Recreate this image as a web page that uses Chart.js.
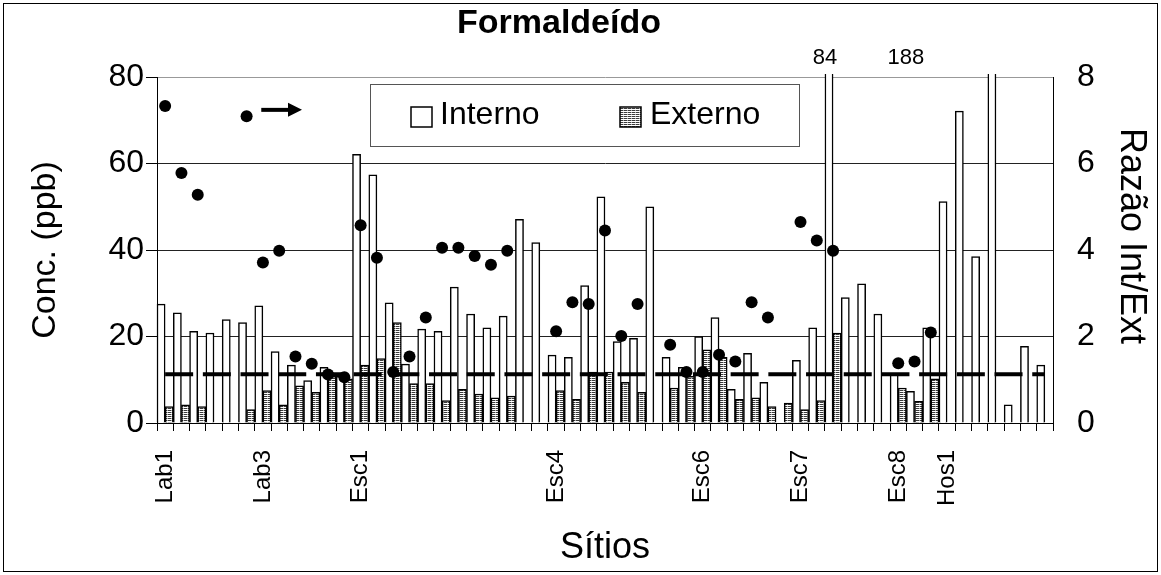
<!DOCTYPE html>
<html>
<head>
<meta charset="utf-8">
<script src="https://cdn.jsdelivr.net/npm/chart.js@4.4.1/dist/chart.umd.min.js"></script>
<style>
  html, body { margin: 0; padding: 0; background: #fff; }
  #wrap { width: 1161px; height: 575px; }
</style>
</head>
<body>
<div id="wrap"><canvas id="myChart" width="1161" height="575"></canvas></div>
<script>
// sites (only some are labelled on the axis)
const sites = [
  'Lab1', '', '', '', '', '', 'Lab3', '', '', '', '',
  '', 'Esc1', '', '', '', '', '', '', '', '', '',
  '', '', 'Esc4', '', '', '', '', '', '', '', '',
  'Esc6', '', '', '', '', '', 'Esc7', '', '', '', '',
  '', 'Esc8', '', '', 'Hos1', '', '', '', '', '', ''
];

// concentration indoor (ppb)
const interno = [
  27.5, 25.5, 21.2, 20.8, 23.9, 23.2, 27.1, 16.5, 13.4, 9.8, 12.9,
  10.8, 62.1, 57.4, 27.8, 13.6, 21.7, 21.2, 31.4, 25.2, 22.0, 24.7,
  47.1, 41.7, 15.7, 15.2, 31.8, 52.3, 18.8, 19.6, 50.0, 15.2, 12.9,
  20.0, 24.4, 7.8, 16.1, 9.4, null, 14.5, 22.0, 84, 29.0, 32.2,
  25.2, 11.2, 7.3, 22.0, 51.2, 72.1, 38.5, 188, 4.2, 17.7, 13.4
];

// concentration outdoor (ppb)
const externo = [
  3.8, 4.2, 3.8, null, null, 3.1, 7.5, 4.2, 8.6, 7.1, 10.8,
  10.2, 13.4, 14.9, 23.2, 9.1, 9.1, 5.2, 7.8, 6.7, 5.8, 6.2,
  null, null, 7.5, 5.5, 11.8, 11.8, 9.4, 7.1, null, 8.1, 10.8,
  16.9, 15.2, 5.5, 5.8, 3.8, 4.6, 3.1, 5.2, 20.8, null, null,
  null, 8.1, 5.0, 10.2, null, null, null, null, null, null, null
];

// ratio int/ext (right axis)
const razao = [
  7.33, 5.78, 5.28, null, null, 7.09, 3.71, 3.98, 1.54, 1.37, 1.12,
  1.06, 4.57, 3.82, 1.18, 1.54, 2.44, 4.05, 4.05, 3.86, 3.66, 3.98,
  null, null, 2.12, 2.79, 2.75, 4.45, 2.01, 2.75, null, 1.81, 1.18,
  1.18, 1.58, 1.42, 2.79, 2.44, null, 4.65, 4.22, 3.98, null, null,
  null, 1.38, 1.42, 2.09, null, null, null, null, null, null, null
];

const razaoRef = 1.13; // dashed reference level

const FONT = '"Liberation Sans", Arial, sans-serif';
Chart.defaults.font.family = FONT;
Chart.defaults.color = '#000';

function stripes() {
  const c = document.createElement('canvas');
  c.width = 4; c.height = 2;
  const g = c.getContext('2d');
  g.fillStyle = '#fff';
  g.fillRect(0, 0, 4, 2);
  g.fillStyle = '#3a3a3a';
  g.fillRect(0, 0, 3, 1);
  g.fillStyle = '#aaa';
  g.fillRect(3, 0, 1, 1);
  return g.createPattern(c, 'repeat');
}
const hatch = stripes();

// white page + frame, title, legend box, arrow and off-scale labels
const decorations = {
  id: 'decorations',
  beforeDraw(chart) {
    const ctx = chart.ctx;
    ctx.save();
    ctx.fillStyle = '#fff';
    ctx.fillRect(0, 0, chart.width, chart.height);
    ctx.restore();
  },
  afterDatasetsDraw(chart) {
    const ctx = chart.ctx;
    const x = chart.scales.x, y = chart.scales.y, y1 = chart.scales.y1;
    ctx.save();

    // frame
    ctx.strokeStyle = '#000';
    ctx.lineWidth = 1;
    ctx.strokeRect(3.5, 3.5, chart.width - 7, chart.height - 7);

    // title
    ctx.fillStyle = '#000';
    ctx.font = 'bold 34px ' + FONT;
    ctx.textAlign = 'center';
    ctx.textBaseline = 'middle';
    ctx.fillText('Formaldeído', 559, 24);

    // right axis title
    ctx.save();
    ctx.translate(1131, 236);
    ctx.rotate(Math.PI / 2);
    ctx.font = '36px ' + FONT;
    ctx.fillText('Razão Int/Ext', 0, 0);
    ctx.restore();

    // legend
    ctx.fillStyle = '#fff';
    ctx.fillRect(370, 84, 429, 62);
    ctx.strokeStyle = '#555';
    ctx.strokeRect(370.5, 84.5, 429, 62);
    ctx.lineWidth = 1.5;
    ctx.strokeStyle = '#000';
    ctx.fillStyle = '#fff';
    ctx.fillRect(411, 107, 21, 20);
    ctx.strokeRect(411, 107, 21, 20);
    ctx.fillStyle = hatch;
    ctx.fillRect(620, 107, 21, 20);
    ctx.strokeRect(620, 107, 21, 20);
    ctx.fillStyle = '#000';
    ctx.font = '32px ' + FONT;
    ctx.textAlign = 'left';
    ctx.fillText('Interno', 440, 115);
    ctx.fillText('Externo', 650, 115);

    // arrow pointing to the right axis
    const ax0 = x.getPixelForValue(5.9), ax1 = x.getPixelForValue(8.4);
    const ay = y1.getPixelForValue(7.24);
    ctx.lineWidth = 4;
    ctx.beginPath();
    ctx.moveTo(ax0, ay);
    ctx.lineTo(ax1 - 12, ay);
    ctx.stroke();
    ctx.beginPath();
    ctx.moveTo(ax1, ay);
    ctx.lineTo(ax1 - 14, ay - 7);
    ctx.lineTo(ax1 - 14, ay + 7);
    ctx.closePath();
    ctx.fill();

    // values of bars that go past the top
    const meta = chart.getDatasetMeta(0);
    ctx.font = '22px ' + FONT;
    ctx.textAlign = 'center';
    ctx.textBaseline = 'middle';
    interno.forEach((v, i) => {
      if (v != null && v > y.max) {
        const shift = v > 100 ? -86 : -4;
        ctx.fillText(String(v), meta.data[i].x + shift, 58);
      }
    });
    ctx.restore();
  }
};

const ctx = document.getElementById('myChart').getContext('2d');
const chart = new Chart(ctx, {
  type: 'bar',
  data: {
    labels: sites,
    datasets: [
      {
        label: 'Interno',
        data: interno,
        backgroundColor: '#fff',
        borderColor: '#000',
        borderWidth: 1.5,
        categoryPercentage: 1,
        barPercentage: 1,
        yAxisID: 'y',
        order: 3,
        clip: { left: 2, right: 2, top: 3, bottom: 2 }
      },
      {
        label: 'Externo',
        data: externo,
        backgroundColor: hatch,
        borderColor: '#000',
        borderWidth: 1.5,
        categoryPercentage: 1,
        barPercentage: 1,
        yAxisID: 'y',
        order: 3
      },
      {
        type: 'line',
        label: 'ref',
        data: sites.map(() => razaoRef),
        borderColor: '#000',
        borderWidth: 4,
        borderDash: [28, 9.7],
        pointRadius: 0,
        fill: false,
        yAxisID: 'y1',
        order: 2
      },
      {
        type: 'line',
        label: 'Razão',
        data: razao,
        showLine: false,
        pointRadius: 6,
        pointBackgroundColor: '#000',
        pointBorderWidth: 0,
        yAxisID: 'y1',
        order: 1
      }
    ]
  },
  options: {
    responsive: false,
    animation: false,
    layout: { padding: { top: 77, left: 0, right: 0, bottom: 0 } },
    plugins: {
      legend: { display: false },
      tooltip: { enabled: false },
      title: { display: false }
    },
    scales: {
      x: {
        grid: {
          offset: true,
          drawOnChartArea: false,
          tickLength: 8,
          color: '#000'
        },
        border: { color: '#000', width: 1 },
        ticks: {
          autoSkip: false,
          maxRotation: 90,
          minRotation: 90,
          padding: 19,
          font: { size: 24 }
        },
        title: {
          display: true,
          text: 'Sítios',
          font: { size: 36 },
          padding: { top: 0, bottom: 5 }
        },
        afterFit(s) { s.height = 152; }
      },
      y: {
        position: 'left',
        min: 0,
        max: 80,
        ticks: { stepSize: 20, padding: 2, font: { size: 32 } },
        grid: {
          color: c => (c.tick && c.tick.value === 80 ? '#999' : '#222'),
          tickColor: '#000',
          tickLength: 11,
          lineWidth: 1
        },
        border: { color: '#000', width: 1 },
        title: {
          display: true,
          text: 'Conc. (ppb)',
          font: { size: 34 },
          padding: { top: 25, bottom: 0 }
        },
        afterFit(s) { s.width = 157; }
      },
      y1: {
        position: 'right',
        min: 0,
        max: 8,
        ticks: { stepSize: 2, padding: 24, font: { size: 32 } },
        grid: { drawOnChartArea: false, drawTicks: false },
        border: { color: '#000', width: 1 },
        afterFit(s) { s.width = 108; }
      }
    }
  },
  plugins: [decorations]
});
</script>
</body>
</html>
